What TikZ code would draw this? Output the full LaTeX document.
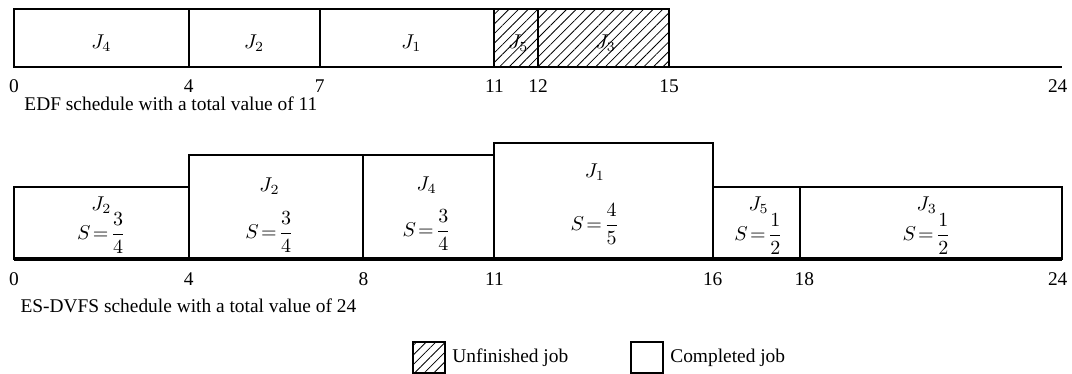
\documentclass[tikz,border=0pt]{standalone}
\usepackage{amsmath}
\usepackage{fontspec}
\setmainfont{Liberation Serif}
\usetikzlibrary{patterns.meta}

\newcommand{\speedeq}[2]{$S\mkern2mu{=}\mkern2mu\dfrac{#1}{#2}$}

\begin{document}
\begin{tikzpicture}[x=21.835pt, y=0.5pt, font=\fontsize{9.7}{11}\selectfont,
	jobbox/.style={draw=black, line width=0.9pt},
	hatched/.style={jobbox, pattern={Lines[angle=45,distance=3.4pt,line width=0.4pt]}},
	ticklabel/.style={inner sep=0pt},
	joblabel/.style={inner sep=0pt}]
	\useasboundingbox (-0.3206,0) rectangle (24.2272,374);
	
	% EDF schedule
	\draw[jobbox] (0,307) rectangle (4,365);
	\draw[jobbox] (4,307) rectangle (7,365);
	\draw[jobbox] (7,307) rectangle (11,365);
	\draw[hatched] (11,307) rectangle (12,365);
	\draw[hatched] (12,307) rectangle (15,365);
	\draw[jobbox] (0,307) -- (24,307);
	
	\node[joblabel] (edfJ4) at (2,331) {$J_4$};
	\node[joblabel] (edfJ2) at (5.5,331) {$J_2$};
	\node[joblabel] (edfJ1) at (9.1,331) {$J_1$};
	\node[joblabel] (edfJ5) at (11.55,331) {$J_5$};
	\node[joblabel] (edfJ3) at (13.55,331) {$J_3$};
	
	\foreach \t in {0,4,7,11,12,15}
		\node[ticklabel] (edf\t) at (\t,288) {\t};
	\node[ticklabel] (edf24) at (23.9,288) {24};
	
	\node[anchor=west, inner sep=0pt] (edfcap) at (0.23,270) {EDF schedule with a total value of 11};
	
	% ES-DVFS schedule
	\draw[jobbox] (0,115) rectangle (4,187);
	\draw[jobbox] (4,115) rectangle (8,219);
	\draw[jobbox] (8,115) rectangle (11,219);
	\draw[jobbox] (11,115) rectangle (16,231);
	\draw[jobbox] (16,115) rectangle (18,187);
	\draw[jobbox] (18,115) rectangle (24,187);
	\draw[line width=1.6pt] (0,115) -- (24,115);
	
	\node[joblabel] (dvJ2a) at (2,169) {$J_2$};
	\node[joblabel] (dvSa) at (2,141) {\speedeq{3}{4}};
	\node[joblabel] (dvJ2b) at (5.85,188) {$J_2$};
	\node[joblabel] (dvSb) at (5.85,142) {\speedeq{3}{4}};
	\node[joblabel] (dvJ4) at (9.45,189) {$J_4$};
	\node[joblabel] (dvSc) at (9.45,144) {\speedeq{3}{4}};
	\node[joblabel] (dvJ1) at (13.3,202) {$J_1$};
	\node[joblabel] (dvSd) at (13.3,150) {\speedeq{4}{5}};
	\node[joblabel] (dvJ5) at (17.05,169) {$J_5$};
	\node[joblabel] (dvSe) at (17.05,140) {\speedeq{1}{2}};
	\node[joblabel] (dvJ3) at (20.9,169) {$J_3$};
	\node[joblabel] (dvSf) at (20.9,140) {\speedeq{1}{2}};
	
	\foreach \t in {0,4,8,11,16}
		\node[ticklabel] (dv\t) at (\t,95) {\t};
	\node[ticklabel] (dv18) at (18.1,95) {18};
	\node[ticklabel] (dv24) at (23.9,95) {24};
	
	\node[anchor=west, inner sep=0pt] (dvcap) at (0.14,68) {ES-DVFS schedule with a total value of 24};
	
	% legend
	\draw[hatched] (9.137,1) rectangle (9.870,32);
	\node[anchor=west, inner sep=0pt] (unfin) at (10.03,16) {Unfinished job};
	\draw[jobbox, line width=0.6pt] (14.129,1) rectangle (14.861,32);
	\node[anchor=west, inner sep=0pt] (compl) at (15.02,16) {Completed job};
\end{tikzpicture}
\end{document}
